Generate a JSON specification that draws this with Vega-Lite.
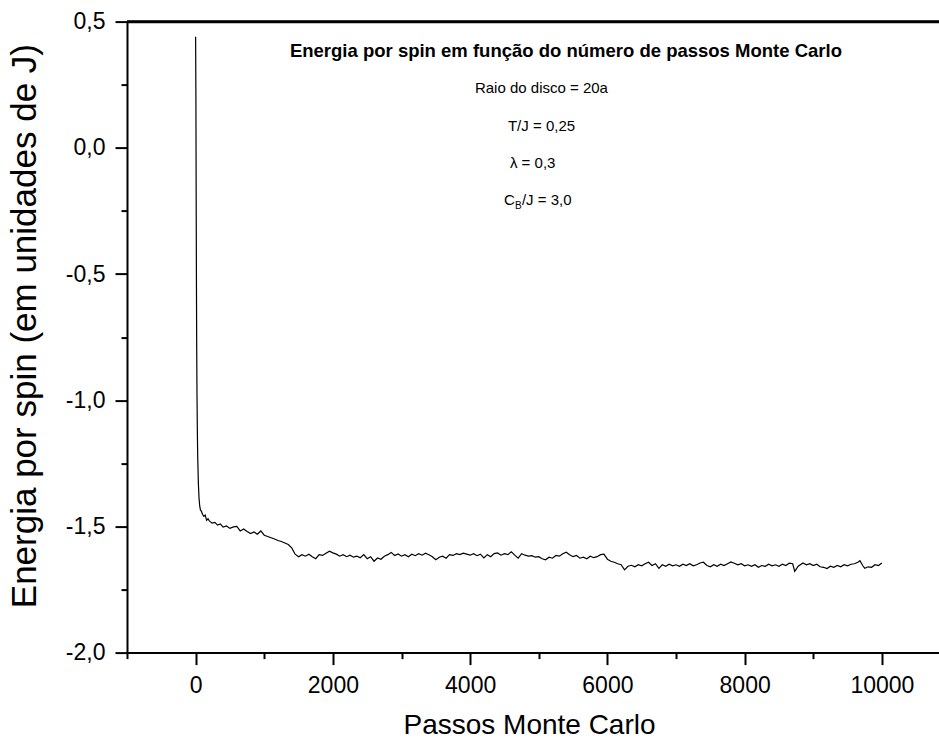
{
  "$schema": "https://vega.github.io/schema/vega-lite/v6.json",
  "autosize": {"type": "none"},
  "padding": {"left": 127, "top": 21.6, "right": 0, "bottom": 87.4},
  "width": 812,
  "height": 631,
  "background": "white",
  "view": {"stroke": null},
  "config": {
    "font": "Liberation Sans",
    "axis": {
      "domainColor": "black", "domainWidth": 2, "tickColor": "black", "tickWidth": 2,
      "labelColor": "black", "titleColor": "black", "labelFont": "Liberation Sans",
      "titleFont": "Liberation Sans", "titleFontWeight": "normal", "grid": false,
      "labelFlush": false, "labelOverlap": false, "labelBound": false
    }
  },
  "datasets": {
    "energy": [
      {"step": 0, "energy": 0.44}, {"step": 4, "energy": 0.2}, {"step": 8, "energy": -0.2}, {"step": 12, "energy": -0.55},
      {"step": 16, "energy": -0.8}, {"step": 20, "energy": -0.98}, {"step": 25, "energy": -1.12}, {"step": 30, "energy": -1.22},
      {"step": 40, "energy": -1.33}, {"step": 50, "energy": -1.39}, {"step": 60, "energy": -1.42}, {"step": 70, "energy": -1.435},
      {"step": 85, "energy": -1.44}, {"step": 100, "energy": -1.452}, {"step": 120, "energy": -1.46}, {"step": 140, "energy": -1.455},
      {"step": 160, "energy": -1.476}, {"step": 180, "energy": -1.47}, {"step": 200, "energy": -1.478}, {"step": 240, "energy": -1.487},
      {"step": 280, "energy": -1.484}, {"step": 320, "energy": -1.495}, {"step": 360, "energy": -1.49}, {"step": 400, "energy": -1.503},
      {"step": 450, "energy": -1.498}, {"step": 500, "energy": -1.508}, {"step": 550, "energy": -1.502}, {"step": 600, "energy": -1.5},
      {"step": 650, "energy": -1.518}, {"step": 700, "energy": -1.51}, {"step": 750, "energy": -1.52}, {"step": 800, "energy": -1.528},
      {"step": 850, "energy": -1.522}, {"step": 900, "energy": -1.531}, {"step": 950, "energy": -1.518}, {"step": 1000, "energy": -1.535},
      {"step": 1050, "energy": -1.54}, {"step": 1100, "energy": -1.545}, {"step": 1150, "energy": -1.55}, {"step": 1200, "energy": -1.556},
      {"step": 1250, "energy": -1.56}, {"step": 1300, "energy": -1.566}, {"step": 1350, "energy": -1.572}, {"step": 1400, "energy": -1.585},
      {"step": 1450, "energy": -1.61}, {"step": 1500, "energy": -1.62}, {"step": 1550, "energy": -1.612}, {"step": 1600, "energy": -1.618},
      {"step": 1650, "energy": -1.61}, {"step": 1700, "energy": -1.62}, {"step": 1750, "energy": -1.628}, {"step": 1800, "energy": -1.612},
      {"step": 1850, "energy": -1.615}, {"step": 1900, "energy": -1.606}, {"step": 1950, "energy": -1.598}, {"step": 2000, "energy": -1.605},
      {"step": 2050, "energy": -1.61}, {"step": 2100, "energy": -1.618}, {"step": 2150, "energy": -1.612}, {"step": 2200, "energy": -1.62},
      {"step": 2250, "energy": -1.614}, {"step": 2300, "energy": -1.622}, {"step": 2350, "energy": -1.618}, {"step": 2400, "energy": -1.624},
      {"step": 2450, "energy": -1.612}, {"step": 2500, "energy": -1.628}, {"step": 2550, "energy": -1.62}, {"step": 2600, "energy": -1.638},
      {"step": 2650, "energy": -1.625}, {"step": 2700, "energy": -1.63}, {"step": 2750, "energy": -1.618}, {"step": 2800, "energy": -1.612},
      {"step": 2850, "energy": -1.603}, {"step": 2900, "energy": -1.615}, {"step": 2950, "energy": -1.609}, {"step": 3000, "energy": -1.618},
      {"step": 3050, "energy": -1.612}, {"step": 3100, "energy": -1.62}, {"step": 3150, "energy": -1.61}, {"step": 3200, "energy": -1.616},
      {"step": 3250, "energy": -1.608}, {"step": 3300, "energy": -1.614}, {"step": 3350, "energy": -1.606}, {"step": 3400, "energy": -1.612},
      {"step": 3450, "energy": -1.62}, {"step": 3500, "energy": -1.632}, {"step": 3550, "energy": -1.622}, {"step": 3600, "energy": -1.618},
      {"step": 3650, "energy": -1.626}, {"step": 3700, "energy": -1.612}, {"step": 3750, "energy": -1.615}, {"step": 3800, "energy": -1.608},
      {"step": 3850, "energy": -1.612}, {"step": 3900, "energy": -1.606}, {"step": 3950, "energy": -1.61}, {"step": 4000, "energy": -1.614},
      {"step": 4050, "energy": -1.608}, {"step": 4100, "energy": -1.616}, {"step": 4150, "energy": -1.61}, {"step": 4200, "energy": -1.625},
      {"step": 4250, "energy": -1.612}, {"step": 4300, "energy": -1.62}, {"step": 4350, "energy": -1.608}, {"step": 4400, "energy": -1.605},
      {"step": 4450, "energy": -1.614}, {"step": 4500, "energy": -1.608}, {"step": 4550, "energy": -1.612}, {"step": 4600, "energy": -1.601},
      {"step": 4650, "energy": -1.614}, {"step": 4700, "energy": -1.626}, {"step": 4750, "energy": -1.608}, {"step": 4800, "energy": -1.614},
      {"step": 4850, "energy": -1.618}, {"step": 4900, "energy": -1.616}, {"step": 4950, "energy": -1.622}, {"step": 5000, "energy": -1.62},
      {"step": 5050, "energy": -1.628}, {"step": 5100, "energy": -1.632}, {"step": 5150, "energy": -1.622}, {"step": 5200, "energy": -1.626},
      {"step": 5250, "energy": -1.615}, {"step": 5300, "energy": -1.618}, {"step": 5350, "energy": -1.608}, {"step": 5400, "energy": -1.602},
      {"step": 5450, "energy": -1.612}, {"step": 5500, "energy": -1.62}, {"step": 5550, "energy": -1.615}, {"step": 5600, "energy": -1.626},
      {"step": 5650, "energy": -1.622}, {"step": 5700, "energy": -1.628}, {"step": 5750, "energy": -1.618}, {"step": 5800, "energy": -1.624},
      {"step": 5850, "energy": -1.62}, {"step": 5900, "energy": -1.612}, {"step": 5950, "energy": -1.61}, {"step": 6000, "energy": -1.63},
      {"step": 6050, "energy": -1.638}, {"step": 6100, "energy": -1.642}, {"step": 6150, "energy": -1.648}, {"step": 6200, "energy": -1.652},
      {"step": 6250, "energy": -1.672}, {"step": 6300, "energy": -1.658}, {"step": 6350, "energy": -1.654}, {"step": 6400, "energy": -1.66},
      {"step": 6450, "energy": -1.652}, {"step": 6500, "energy": -1.656}, {"step": 6550, "energy": -1.648}, {"step": 6600, "energy": -1.642},
      {"step": 6650, "energy": -1.655}, {"step": 6700, "energy": -1.648}, {"step": 6750, "energy": -1.666}, {"step": 6800, "energy": -1.652},
      {"step": 6850, "energy": -1.658}, {"step": 6900, "energy": -1.65}, {"step": 6950, "energy": -1.656}, {"step": 7000, "energy": -1.652},
      {"step": 7050, "energy": -1.658}, {"step": 7100, "energy": -1.65}, {"step": 7150, "energy": -1.655}, {"step": 7200, "energy": -1.648},
      {"step": 7250, "energy": -1.656}, {"step": 7300, "energy": -1.652}, {"step": 7350, "energy": -1.645}, {"step": 7400, "energy": -1.642},
      {"step": 7450, "energy": -1.655}, {"step": 7500, "energy": -1.66}, {"step": 7550, "energy": -1.652}, {"step": 7600, "energy": -1.658},
      {"step": 7650, "energy": -1.65}, {"step": 7700, "energy": -1.655}, {"step": 7750, "energy": -1.648}, {"step": 7800, "energy": -1.641},
      {"step": 7850, "energy": -1.646}, {"step": 7900, "energy": -1.652}, {"step": 7950, "energy": -1.648}, {"step": 8000, "energy": -1.656},
      {"step": 8050, "energy": -1.652}, {"step": 8100, "energy": -1.658}, {"step": 8150, "energy": -1.652}, {"step": 8200, "energy": -1.662},
      {"step": 8250, "energy": -1.655}, {"step": 8300, "energy": -1.658}, {"step": 8350, "energy": -1.65}, {"step": 8400, "energy": -1.656},
      {"step": 8450, "energy": -1.652}, {"step": 8500, "energy": -1.658}, {"step": 8550, "energy": -1.65}, {"step": 8600, "energy": -1.655},
      {"step": 8650, "energy": -1.646}, {"step": 8700, "energy": -1.648}, {"step": 8730, "energy": -1.678}, {"step": 8780, "energy": -1.658},
      {"step": 8850, "energy": -1.645}, {"step": 8900, "energy": -1.652}, {"step": 8950, "energy": -1.648}, {"step": 9000, "energy": -1.655},
      {"step": 9050, "energy": -1.65}, {"step": 9100, "energy": -1.66}, {"step": 9150, "energy": -1.662}, {"step": 9200, "energy": -1.667},
      {"step": 9250, "energy": -1.658}, {"step": 9300, "energy": -1.662}, {"step": 9350, "energy": -1.655}, {"step": 9400, "energy": -1.66},
      {"step": 9450, "energy": -1.652}, {"step": 9500, "energy": -1.656}, {"step": 9550, "energy": -1.65}, {"step": 9600, "energy": -1.648},
      {"step": 9650, "energy": -1.642}, {"step": 9680, "energy": -1.636}, {"step": 9720, "energy": -1.655}, {"step": 9750, "energy": -1.666},
      {"step": 9800, "energy": -1.66}, {"step": 9850, "energy": -1.662}, {"step": 9900, "energy": -1.652}, {"step": 9950, "energy": -1.655},
      {"step": 10000, "energy": -1.645}
    ],
    "heading": [
      {"step": 5396, "energy": 0.383, "label": "Energia por spin em função do número de passos Monte Carlo"}
    ],
    "notes": [
      {"step": 4070, "energy": 0.237, "label": "Raio do disco = 20a"},
      {"step": 4551, "energy": 0.086, "label": "T/J = 0,25"},
      {"step": 4580, "energy": -0.06, "label": "λ = 0,3"},
      {"step": 4492, "energy": -0.207, "label": "C"},
      {"step": 4754, "energy": -0.207, "label": "/J = 3,0"}
    ],
    "subs": [
      {"step": 4652, "energy": -0.232, "label": "B"}
    ]
  },
  "layer": [
    {
      "data": {"name": "energy"},
      "mark": {"type": "line", "color": "black", "strokeWidth": 1.2},
      "encoding": {
        "x": {
          "field": "step", "type": "quantitative",
          "scale": {"domain": [-1000, 10832], "nice": false, "zero": false},
          "axis": {
            "values": [-1000, 0, 1000, 2000, 3000, 4000, 5000, 6000, 7000, 8000, 9000, 10000],
            "domainWidth": 2, "domainColor": "black", "tickWidth": 2, "tickColor": "black",
            "tickSize": {"condition": {"test": "datum.value % 2000 == 0", "value": 12}, "value": 6},
            "labelExpr": "datum.value % 2000 == 0 ? format(datum.value, 'd') : ''",
            "labelFontSize": 23, "labelPadding": 10,
            "title": "Passos Monte Carlo", "titleFontSize": 28,
            "titleX": 402, "titleY": 81, "titleBaseline": "alphabetic", "titleAnchor": null, "titleAlign": "center"
          }
        },
        "y": {
          "field": "energy", "type": "quantitative",
          "scale": {"domain": [-2, 0.5], "nice": false, "zero": false},
          "axis": {
            "values": [-2, -1.75, -1.5, -1.25, -1, -0.75, -0.5, -0.25, 0, 0.25, 0.5],
            "domainWidth": 2, "domainColor": "black", "tickWidth": 2, "tickColor": "black",
            "grid": true, "gridColor": "black", "gridWidth": 2.5,
            "gridOpacity": {"condition": {"test": "datum.value > 0.49", "value": 1}, "value": 0},
            "tickSize": {"condition": {"test": "abs(datum.value*2 - round(datum.value*2)) < 0.001", "value": 12}, "value": 6},
            "labelExpr": "abs(datum.value*2 - round(datum.value*2)) < 0.001 ? (datum.value < 0 ? '-' : '') + replace(format(abs(datum.value), '.1f'), '.', ',') : ''",
            "labelFontSize": 23, "labelPadding": 10,
            "title": "Energia por spin (em unidades de J)", "titleFontSize": 35,
            "titleX": -120, "titleY": 304, "titleAngle": 270, "titleBaseline": "top", "titleAlign": "center", "titleAnchor": null
          }
        }
      }
    },
    {
      "data": {"values": [{"edge": 0.5}]},
      "mark": {"type": "rule", "color": "black", "strokeWidth": 2.5},
      "encoding": {"y": {"field": "edge", "type": "quantitative"}}
    },
    {
      "data": {"name": "heading"},
      "mark": {"type": "text", "font": "Liberation Sans", "fontWeight": "bold", "fontSize": 18.5, "align": "center", "baseline": "middle", "color": "black"},
      "encoding": {
        "x": {"field": "step", "type": "quantitative"},
        "y": {"field": "energy", "type": "quantitative"},
        "text": {"field": "label"}
      }
    },
    {
      "data": {"name": "notes"},
      "mark": {"type": "text", "font": "Liberation Sans", "fontSize": 15, "align": "left", "baseline": "middle", "color": "black"},
      "encoding": {
        "x": {"field": "step", "type": "quantitative"},
        "y": {"field": "energy", "type": "quantitative"},
        "text": {"field": "label"}
      }
    },
    {
      "data": {"name": "subs"},
      "mark": {"type": "text", "font": "Liberation Sans", "fontSize": 10, "align": "left", "baseline": "middle", "color": "black"},
      "encoding": {
        "x": {"field": "step", "type": "quantitative"},
        "y": {"field": "energy", "type": "quantitative"},
        "text": {"field": "label"}
      }
    }
  ]
}
